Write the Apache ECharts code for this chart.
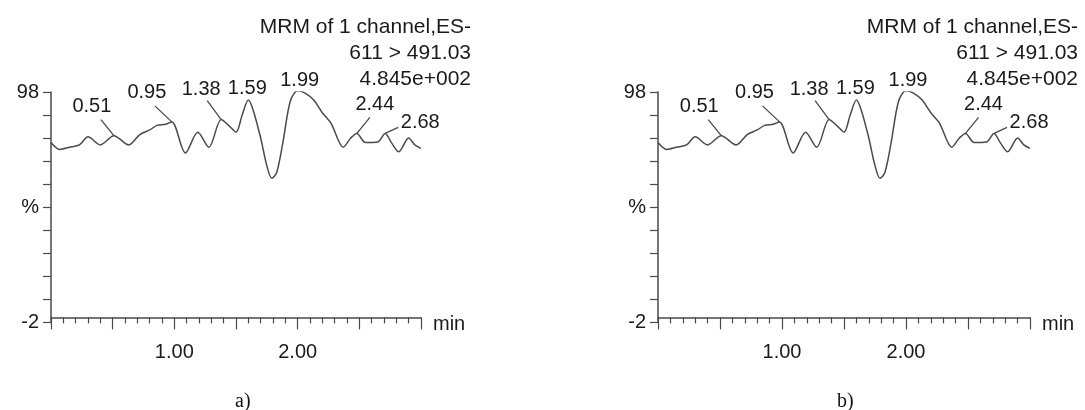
<!DOCTYPE html>
<html>
<head>
<meta charset="utf-8">
<script src="https://cdn.jsdelivr.net/npm/echarts@6/dist/echarts.min.js"></script>
<style>
  html, body { margin: 0; padding: 0; background: #fff; }
  #chart { width: 1085px; height: 410px; }
</style>
</head>
<body>
<div id="chart"></div>
<script>
// chromatogram trace (time in min, relative intensity in %)
const times = [0.00, 0.07, 0.15, 0.23, 0.30, 0.40, 0.51, 0.63, 0.72, 0.80, 0.86, 0.93, 0.98,
  1.09, 1.19, 1.28, 1.38, 1.44, 1.50, 1.55, 1.60, 1.64, 1.70, 1.75, 1.79, 1.83, 1.88, 1.94,
  2.00, 2.06, 2.13, 2.20, 2.27, 2.37, 2.43, 2.48, 2.55, 2.65, 2.71, 2.76, 2.82, 2.90, 2.95, 3.00];
const intensity = [76, 73, 74, 75, 78.5, 75, 79, 75, 79.5, 81.5, 83.5, 84, 85,
  71.5, 80.5, 74, 86, 83.5, 80.5, 88, 94.5, 90, 78, 66, 60.5, 63, 76, 94,
  98.5, 97.5, 94.5, 89, 84.5, 74, 78, 80, 76, 76.3, 80, 76, 72, 78, 75, 73.5];

// peak annotations
const peakLabels = ['0.51', '0.95', '1.38', '1.59', '1.99', '2.44', '2.68'];
const peakTimes = [0.51, 0.98, 1.38, 1.60, 2.00, 2.48, 2.71];
const peakValues = [79, 85, 86, 94.5, 98.5, 80, 80];

// header text and axis labels
const headerLines = ['MRM of 1 channel,ES-', '611 > 491.03', '4.845e+002'];
const panelNames = ['a)', 'b)'];
const yTicks = [-2, 8, 18, 28, 38, 48, 58, 68, 78, 88, 98];
const yLabels = [-2, 48, 98];
const xLabels = [1, 2];

// where each peak label and its leader line sit, relative to the peak (px)
const labelOffsets = [[-22, -29], [-25, -29], [-20, -30], [-1, -12], [2, -10], [18, -29], [35, -11]];
const leaderEnds = [[-13, -16], [-17, -16], [-14, -19], null, null, [13, -16], [13, -6]];

const font = 'Liberation Sans, Arial, sans-serif';
const ink = '#1a1a1a';
const lineColor = '#4a4a4a';

let chart = echarts.init(document.getElementById('chart'));

const trace = times.map((t, i) => [t, intensity[i]]);
const peaks = peakTimes.map((t, i) => [t, peakValues[i]]);

// label + leader line for each annotated peak
function renderPeak(params, api) {
  const i = params.dataIndex;
  const p = api.coord([api.value(0), api.value(1)]);
  const off = labelOffsets[i];
  const children = [{
    type: 'text',
    style: {
      text: peakLabels[i], x: p[0] + off[0], y: p[1] + off[1],
      align: 'center', verticalAlign: 'middle',
      font: '20px ' + font, fill: ink
    }
  }];
  if (leaderEnds[i]) {
    children.push({
      type: 'line',
      shape: { x1: p[0], y1: p[1], x2: p[0] + leaderEnds[i][0], y2: p[1] + leaderEnds[i][1] },
      style: { stroke: lineColor, lineWidth: 1.3 }
    });
  }
  return { type: 'group', children: children };
}

// panel geometry
const panels = [
  { left: 51, width: 370, headRight: 614, caption: 244 },
  { left: 658, width: 372, headRight: 7, caption: 846 }
];

let grid = [], xAxis = [], yAxis = [], series = [], graphic = [];
panels.forEach((p, k) => {
  grid.push({ left: p.left, top: 92, width: p.width, height: 230 });
  xAxis.push({
    type: 'value', gridIndex: k, min: 0, max: 3, interval: 0.5,
    name: 'min', nameLocation: 'end', nameGap: 12,
    nameTextStyle: { fontFamily: font, fontSize: 20, color: ink, verticalAlign: 'top', lineHeight: 14 },
    axisLine: { lineStyle: { color: lineColor, width: 1.5 } },
    axisTick: { length: 12, lineStyle: { color: lineColor, width: 1.2 } },
    minorTick: { show: true, splitNumber: 5, length: 6, lineStyle: { color: lineColor, width: 1.2 } },
    axisLabel: {
      customValues: xLabels, margin: 20, fontFamily: font, fontSize: 20, color: ink,
      formatter: v => v.toFixed(2)
    },
    splitLine: { show: false }
  });
  yAxis.push({
    type: 'value', gridIndex: k, min: -2, max: 98,
    axisLine: { show: true, lineStyle: { color: lineColor, width: 1.5 } },
    axisTick: { show: true, customValues: yTicks, length: 8, lineStyle: { color: lineColor, width: 1.2 } },
    axisLabel: {
      customValues: yLabels, margin: 12, fontFamily: font, fontSize: 20, color: ink,
      formatter: v => (v === 48 ? '%' : String(v))
    },
    splitLine: { show: false }
  });
  series.push({
    type: 'line', xAxisIndex: k, yAxisIndex: k, data: trace,
    smooth: 0.3, symbol: 'none',
    lineStyle: { color: lineColor, width: 1.5 }
  });
  series.push({
    type: 'custom', xAxisIndex: k, yAxisIndex: k, data: peaks,
    renderItem: renderPeak, clip: false, silent: true
  });
  headerLines.forEach((line, j) => {
    graphic.push({
      type: 'text', right: p.headRight, top: 17 + j * 26,
      style: { text: line, font: '21px ' + font, fill: ink }
    });
  });
  graphic.push({
    type: 'text', left: p.caption - 9, top: 392,
    style: { text: panelNames[k], font: '20px Liberation Serif, Times New Roman, serif', fill: '#111' }
  });
});

chart.setOption({
  animation: false,
  grid: grid,
  xAxis: xAxis,
  yAxis: yAxis,
  series: series,
  graphic: graphic
});
</script>
</body>
</html>
